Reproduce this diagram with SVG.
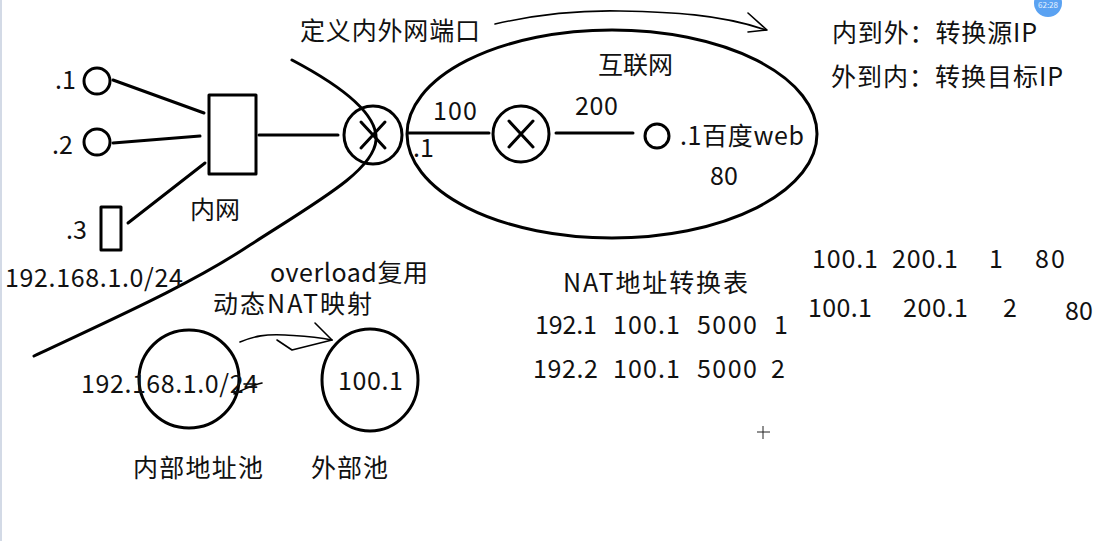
<svg xmlns="http://www.w3.org/2000/svg" width="1120" height="541" viewBox="0 0 1120 541">
<style>
.s{fill:none;stroke:#000;stroke-width:3;stroke-linecap:round;stroke-linejoin:round}
.t{fill:none;stroke:#000;stroke-width:1.6;stroke-linecap:round;stroke-linejoin:round}
text{font-family:"Noto Sans CJK SC","Microsoft YaHei","Noto Sans",sans-serif;font-size:25px;fill:#111}
</style>
<rect width="1120" height="541" fill="#fff"/>
<rect x="0" y="0" width="2" height="541" fill="#d3dae6"/>

<g id="connectors">
<line class="s" x1="113" y1="80" x2="204" y2="113"/>
<line class="s" x1="113" y1="143" x2="200" y2="136"/>
<line class="s" x1="128" y1="223" x2="205" y2="163"/>
<line class="s" x1="259" y1="135" x2="338" y2="135"/>
<line class="s" x1="408" y1="133" x2="489" y2="133"/>
<line class="s" x1="556" y1="133" x2="633" y2="133"/>
<path class="t" d="M495,24 C530,16 570,10 620,11 C670,12 720,14 766,30"/>
<polyline class="t" points="748,13 767,30 748,32"/>
<path class="t" d="M240,342 C255,336 265,334 285,335 C300,336 312,336 332,340"/>
<polyline class="t" points="315,323 332,340 292,350 277,340"/>
<path class="t" d="M234,394 C242,390 250,386 262,383 M244,384 L256,384"/>
</g>

<g id="boundary"><path class="s" d="M292,60 C345,88 378,115 376,140 C374,170 320,200 250,245 C190,285 110,320 34,356"/></g>

<g id="host1"><circle class="s" cx="97" cy="81" r="13"/><text x="55" y="89">.1</text></g>
<g id="host2"><circle class="s" cx="97" cy="142" r="13"/><text x="52" y="154">.2</text></g>
<g id="host3"><rect class="s" x="101" y="207" width="20" height="43"/><text x="66" y="239">.3</text></g>
<g id="switch"><rect class="s" x="209" y="95" width="47" height="79"/><text x="190" y="219">内网</text></g>
<g id="router1"><circle class="s" cx="373" cy="135" r="29"/><path class="s" d="M361,122 L385,148 M385,122 L361,148"/></g>

<g id="internet">
<ellipse class="s" cx="612" cy="134" rx="205" ry="104"/>
<text x="598" y="74" textLength="75">互联网</text>
<text x="433" y="120" textLength="44">100</text>
<text x="413" y="157">.1</text>
<text x="575" y="115" textLength="43">200</text>
</g>
<g id="router2"><circle class="s" cx="521" cy="134" r="28"/><path class="s" d="M509,121 L533,147 M533,121 L509,147"/></g>
<g id="web"><circle class="s" cx="657" cy="136" r="12"/><text x="680" y="145" textLength="124">.1百度web</text><text x="710" y="185" textLength="28">80</text></g>

<g id="labels">
<text x="300" y="40" textLength="180">定义内外网端口</text>
<text x="832" y="42" textLength="205">内到外：转换源IP</text>
<text x="831" y="86" textLength="232">外到内：转换目标IP</text>
<text x="5" y="287" textLength="178">192.168.1.0/24</text>
<text x="270" y="282" textLength="158">overload复用</text>
<text x="213" y="313" textLength="159">动态NAT映射</text>
</g>

<g id="inner-pool"><ellipse class="s" cx="189" cy="379" rx="50" ry="49"/><text x="81" y="393" textLength="177">192.168.1.0/24</text><text x="133" y="477" textLength="130">内部地址池</text></g>
<g id="outer-pool"><ellipse class="s" cx="370" cy="380" rx="48" ry="51"/><text x="338" y="390" textLength="65">100.1</text><text x="311" y="477" textLength="77">外部池</text></g>

<g id="nat-table">
<text x="563" y="292" textLength="185">NAT地址转换表</text>
<text x="535" y="334" textLength="62">192.1</text><text x="613" y="334" textLength="67">100.1</text><text x="697" y="334" textLength="60">5000</text><text x="774" y="334">1</text>
<text x="533" y="378" textLength="65">192.2</text><text x="613" y="378" textLength="67">100.1</text><text x="697" y="378" textLength="60">5000</text><text x="771" y="378">2</text>
<text x="812" y="268" textLength="66">100.1</text><text x="892" y="268" textLength="66">200.1</text><text x="989" y="268">1</text><text x="1035" y="268" textLength="30">80</text>
<text x="808" y="317" textLength="64">100.1</text><text x="903" y="317" textLength="65">200.1</text><text x="1003" y="317">2</text><text x="1065" y="320" textLength="28">80</text>
</g>

<g id="cursor"><path d="M763,426 V439 M757,432 H770" stroke="#222" stroke-width="1" fill="none"/></g>
<g id="badge"><circle cx="1048" cy="3" r="14" fill="#5aa2f2"/><text x="1048" y="8" text-anchor="middle" style="font-size:8px;fill:#e8f2ff">62:28</text></g>
</svg>
